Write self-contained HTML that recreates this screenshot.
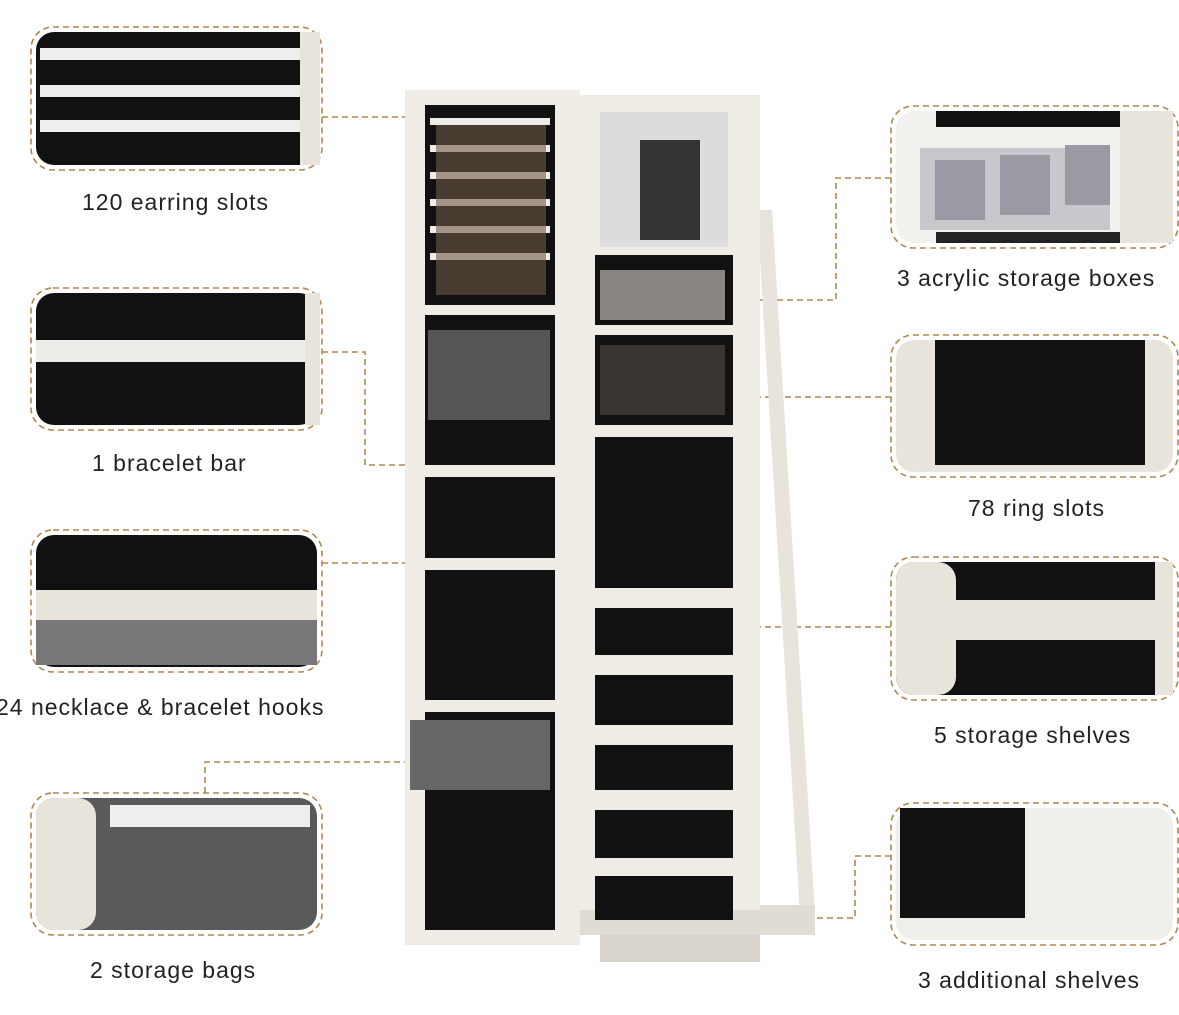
<!DOCTYPE html>
<html><head><meta charset="utf-8"><style>
body{margin:0;width:1179px;height:1015px;background:#fff;overflow:hidden;font-family:"Liberation Sans",sans-serif}
.l{position:absolute;font-size:23px;color:#222;white-space:nowrap;letter-spacing:1px}
</style></head><body>
<svg width="1179" height="1015" style="position:absolute;left:0;top:0">
<g stroke="#b08850" stroke-width="1.6" stroke-dasharray="6,4" fill="none">
<rect x="31" y="27" width="291" height="143" rx="22"/>
<rect x="31" y="288" width="291" height="142" rx="22"/>
<rect x="31" y="530" width="291" height="142" rx="22"/>
<rect x="31" y="793" width="291" height="142" rx="22"/>
<rect x="891" y="106" width="287" height="142" rx="22"/>
<rect x="891" y="335" width="287" height="142" rx="22"/>
<rect x="891" y="557" width="287" height="143" rx="22"/>
<rect x="891" y="803" width="287" height="142" rx="22"/>
<path d="M322 117H440"/>
<path d="M322 352H365V465H455"/>
<path d="M322 563H430"/>
<path d="M205 793V762H430"/>
<path d="M891 178H836V300H600"/>
<path d="M891 397H720"/>
<path d="M891 627H660"/>
<path d="M891 856H855V918H790"/>
</g>
<g>
<rect x="36" y="32" width="281" height="133" rx="18" fill="#111"/>
<rect x="40" y="48" width="262" height="12" fill="#eee"/><rect x="40" y="85" width="262" height="12" fill="#eee"/><rect x="40" y="120" width="262" height="12" fill="#eee"/>
<rect x="300" y="32" width="20" height="133" fill="#e8e4dc"/>
<rect x="36" y="293" width="281" height="132" rx="18" fill="#111"/>
<rect x="36" y="340" width="270" height="22" fill="#eeece8"/>
<rect x="305" y="293" width="15" height="132" fill="#e8e4dc"/>
<rect x="36" y="535" width="281" height="132" rx="18" fill="#111"/>
<rect x="36" y="590" width="281" height="30" fill="#e8e4dc"/>
<rect x="36" y="620" width="281" height="45" fill="#777"/>
<rect x="36" y="798" width="281" height="132" rx="18" fill="#5a5a5a"/>
<rect x="36" y="798" width="60" height="132" rx="18" fill="#e8e4dc"/>
<rect x="110" y="805" width="200" height="22" fill="#eee"/>
<rect x="896" y="111" width="277" height="132" rx="18" fill="#f2f1ee"/>
<rect x="936" y="111" width="184" height="16" fill="#111"/>
<rect x="936" y="232" width="184" height="11" fill="#222"/>
<rect x="920" y="148" width="190" height="82" fill="#c8c8cc"/>
<rect x="935" y="160" width="50" height="60" fill="#9a9aa4"/><rect x="1000" y="155" width="50" height="60" fill="#9a9aa4"/><rect x="1065" y="145" width="45" height="60" fill="#9a9aa4"/>
<rect x="1120" y="111" width="53" height="132" fill="#e8e4dc"/>
<rect x="896" y="340" width="277" height="132" rx="18" fill="#e8e4dc"/>
<rect x="935" y="340" width="210" height="125" fill="#111"/>
<rect x="896" y="562" width="277" height="133" rx="18" fill="#111"/>
<rect x="896" y="562" width="60" height="133" rx="18" fill="#e8e4dc"/>
<rect x="896" y="600" width="270" height="40" fill="#e8e4dc"/>
<rect x="1155" y="562" width="18" height="133" fill="#e8e4dc"/>
<rect x="896" y="808" width="277" height="132" rx="18" fill="#f0eee8"/>
<rect x="900" y="808" width="125" height="110" fill="#111"/>
</g>
<polygon points="757,210 772,210 815,915 800,915" fill="#e8e4dc"/>
<rect x="548" y="905" width="267" height="30" fill="#e0dcd4"/>
<rect x="600" y="935" width="160" height="27" fill="#d8d4cc"/>
<rect x="568" y="95" width="192" height="815" fill="#f0ede6"/>
<rect x="600" y="112" width="128" height="135" fill="#dcdcdc"/>
<rect x="640" y="140" width="60" height="100" fill="#333"/>
<rect x="595" y="255" width="138" height="665" fill="#111"/>
<g fill="#efece6">
<rect x="590" y="325" width="150" height="10"/><rect x="590" y="425" width="150" height="12"/>
<rect x="575" y="588" width="165" height="20"/><rect x="575" y="655" width="165" height="20"/>
<rect x="575" y="725" width="165" height="20"/><rect x="575" y="790" width="165" height="20"/>
<rect x="575" y="858" width="165" height="18"/>
</g>
<rect x="600" y="270" width="125" height="50" fill="#8a8580"/>
<rect x="600" y="345" width="125" height="70" fill="#3a3530"/>
<rect x="405" y="90" width="175" height="855" fill="#f0ede6"/>
<rect x="425" y="105" width="130" height="825" fill="#111"/>
<g fill="#efece6">
<rect x="430" y="118" width="120" height="7"/><rect x="430" y="145" width="120" height="7"/>
<rect x="430" y="172" width="120" height="7"/><rect x="430" y="199" width="120" height="7"/>
<rect x="430" y="226" width="120" height="7"/><rect x="430" y="253" width="120" height="7"/>
<rect x="410" y="305" width="165" height="10"/><rect x="410" y="465" width="150" height="12"/>
<rect x="410" y="558" width="150" height="12"/><rect x="405" y="700" width="150" height="12"/>
</g>
<rect x="436" y="125" width="110" height="170" fill="#6e5a48" opacity="0.6"/>
<rect x="428" y="330" width="122" height="90" fill="#555"/>
<rect x="410" y="720" width="140" height="70" fill="#666"/>
</svg>
<div class="l" style="left:82px;top:189px">120 earring slots</div>
<div class="l" style="left:92px;top:450px">1 bracelet bar</div>
<div class="l" style="left:-4px;top:694px">24 necklace &amp; bracelet hooks</div>
<div class="l" style="left:90px;top:957px">2 storage bags</div>
<div class="l" style="left:897px;top:265px">3 acrylic storage boxes</div>
<div class="l" style="left:968px;top:495px">78 ring slots</div>
<div class="l" style="left:934px;top:722px">5 storage shelves</div>
<div class="l" style="left:918px;top:967px">3 additional shelves</div>
</body></html>
